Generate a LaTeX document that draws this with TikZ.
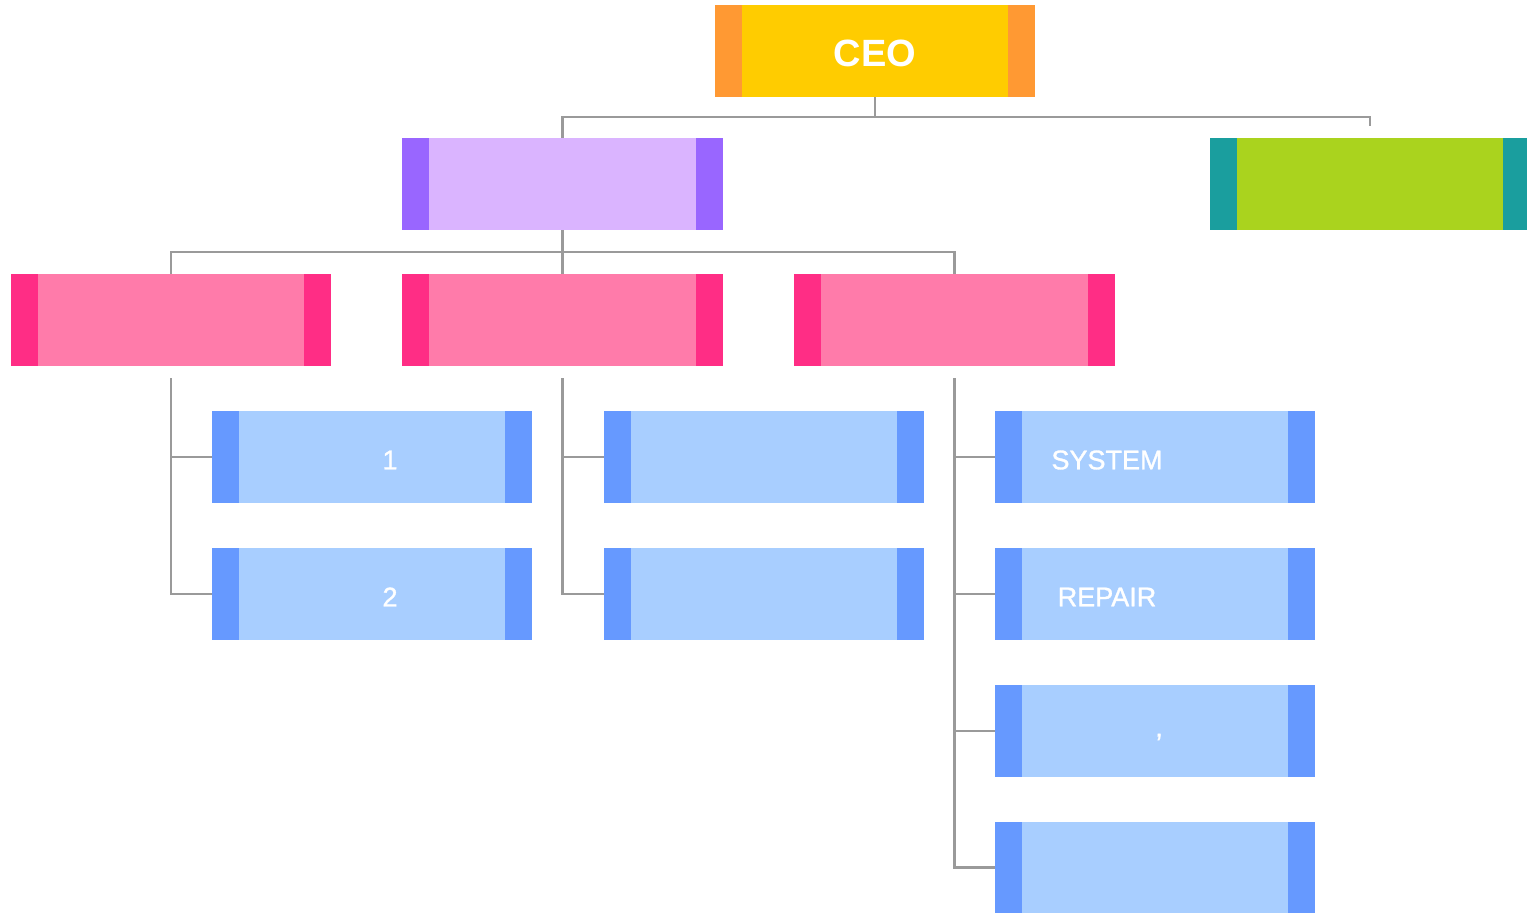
\documentclass[tikz,border=0pt]{standalone}
\usepackage{fontspec}
\setsansfont{Liberation Sans}
\newfontfamily\lblfont[FakeBold=1.2]{Liberation Sans}
\definecolor{conncol}{HTML}{9A9A9A}
\definecolor{ceomain}{HTML}{FFCC00}
\definecolor{ceoband}{HTML}{FF9933}
\definecolor{purmain}{HTML}{DAB4FF}
\definecolor{purband}{HTML}{9966FF}
\definecolor{grnmain}{HTML}{AAD31E}
\definecolor{grnband}{HTML}{1A9E9E}
\definecolor{pnkmain}{HTML}{FF7BAA}
\definecolor{pnkband}{HTML}{FF2D85}
\definecolor{blumain}{HTML}{A8CEFF}
\definecolor{bluband}{HTML}{6699FF}
\tikzset{
  obox/.style n args={3}{rectangle, draw=none, minimum width=#3, minimum height=92pt, inner sep=0pt, fill=#1,
    path picture={
      \fill[#2] (path picture bounding box.north west) rectangle ([xshift=27pt]path picture bounding box.south west);
      \fill[#2] (path picture bounding box.north east) rectangle ([xshift=-27pt]path picture bounding box.south east);
    }},
  gbox/.style={rectangle, draw=none, minimum width=317pt, minimum height=92pt, inner sep=0pt, fill=grnmain,
    path picture={
      \fill[grnband] (path picture bounding box.north west) rectangle ([xshift=27pt]path picture bounding box.south west);
      \fill[grnband] (path picture bounding box.north east) rectangle ([xshift=-24pt]path picture bounding box.south east);
    }},
  conn/.style={draw=conncol, line width=2.6pt},
  lbl/.style={text=white, font=\lblfont\fontsize{27}{30}\selectfont, inner sep=0pt},
}
\begin{document}
\begin{tikzpicture}[x=1pt,y=-1pt]
\useasboundingbox (0,0) rectangle (1527,913);
% boxes
\node[obox={ceomain}{ceoband}{320pt}] (ceo) at (875,51) {};
\node[text=white, font=\sffamily\bfseries\fontsize{38}{40}\selectfont, inner sep=0pt] (ceot) at (875,53) {CEO};
\node[obox={purmain}{purband}{321pt}] (pur) at (562.5,184) {};
\node[gbox] (grn) at (1368.5,184) {};
\node[obox={pnkmain}{pnkband}{320pt}] (pk1) at (171,320) {};
\node[obox={pnkmain}{pnkband}{321pt}] (pk2) at (562.5,320) {};
\node[obox={pnkmain}{pnkband}{321pt}] (pk3) at (954.5,320) {};
\node[obox={blumain}{bluband}{320pt}] (b11) at (372,457) {};
\node[obox={blumain}{bluband}{320pt}] (b12) at (372,594) {};
\node[obox={blumain}{bluband}{320pt}] (b21) at (764,457) {};
\node[obox={blumain}{bluband}{320pt}] (b22) at (764,594) {};
\node[obox={blumain}{bluband}{320pt}] (b31) at (1155,457) {};
\node[obox={blumain}{bluband}{320pt}] (b32) at (1155,594) {};
\node[obox={blumain}{bluband}{320pt}] (b33) at (1155,731) {};
\node[obox={blumain}{bluband}{320pt}, minimum height=91pt] (b34) at (1155,867.5) {};
% labels
\node[lbl] (t1) at (390,460) {1};
\node[lbl] (t2) at (390,597) {2};
\node[lbl] (t3) at (1107,460) {SYSTEM};
\node[lbl] (t4) at (1107,597) {REPAIR};
\node[lbl] (t5) at (1159,737) {,};
% connectors
\coordinate (j0) at (875,117);
\coordinate (gend) at (1370,126);
\draw[conn] (ceo.south) -- (j0);
\draw[conn] (j0) -| (pur.north);
\draw[conn] (j0) -| (gend);
\coordinate (j1) at (562.5,252);
\draw[conn] (pur.south) -- (j1);
\draw[conn] (j1) -| (pk1.north);
\draw[conn] (j1) -- (pk2.north);
\draw[conn] (j1) -| (pk3.north);
\coordinate (s1) at ([yshift=-12pt]pk1.south);
\coordinate (s2) at ([yshift=-12pt]pk2.south);
\coordinate (s3) at ([yshift=-12pt]pk3.south);
\draw[conn] (s1) |- (b11.west);
\draw[conn] (s1) |- (b12.west);
\draw[conn] (s2) |- (b21.west);
\draw[conn] (s2) |- (b22.west);
\draw[conn] (s3) |- (b31.west);
\draw[conn] (s3) |- (b32.west);
\draw[conn] (s3) |- (b33.west);
\draw[conn] (s3) |- (b34.west);
\end{tikzpicture}
\end{document}
